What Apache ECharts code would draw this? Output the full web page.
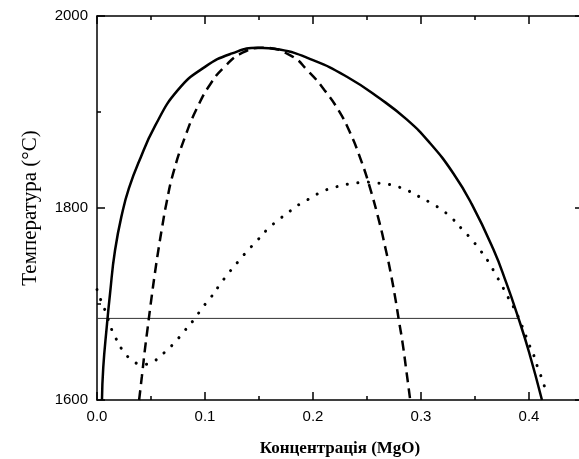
<!DOCTYPE html>
<html>
<head>
<meta charset="utf-8">
<script src="https://cdn.jsdelivr.net/npm/echarts@6/dist/echarts.min.js"></script>
<style>
  html, body { margin: 0; padding: 0; background: #fff; }
  #chart { width: 579px; height: 459px; }
</style>
</head>
<body>
<div id="chart"></div>
<script>
// x ticks (концентрація), y ticks (температура)
const xTicks = [0.0, 0.1, 0.2, 0.3, 0.4]
const yTicks = [1600, 1800, 2000]

// суцільна крива
const solidCurve = [
  [0.0046, 1600], [0.0058, 1634], [0.009, 1676], [0.012, 1710], [0.0167, 1756],
  [0.024, 1798], [0.030, 1822], [0.038, 1846], [0.054, 1886], [0.075, 1923],
  [0.1, 1947], [0.125, 1961], [0.149, 1967], [0.169, 1965], [0.2, 1954],
  [0.231, 1937], [0.262, 1914], [0.287, 1892], [0.308, 1868], [0.33, 1836],
  [0.347, 1804], [0.367, 1757], [0.379, 1722], [0.39, 1686],
  [0.4, 1650], [0.412, 1600]
]

// штрихова крива
const dashedCurve = [
  [0.039, 1600], [0.0415, 1624], [0.0443, 1652], [0.047, 1676], [0.0502, 1704],
  [0.0536, 1732], [0.0568, 1756], [0.0603, 1780], [0.0643, 1805], [0.0705, 1836],
  [0.0815, 1874], [0.093, 1905], [0.1055, 1930], [0.118, 1947], [0.1335, 1961],
  [0.153, 1967], [0.179, 1959], [0.196, 1942], [0.2105, 1923], [0.2235, 1902],
  [0.2345, 1878], [0.245, 1848], [0.2525, 1822], [0.2615, 1785], [0.2675, 1756],
  [0.272, 1732], [0.2765, 1704], [0.2795, 1683], [0.283, 1659], [0.2865, 1630],
  [0.29, 1600]
]

// пунктирна крива
const dottedCurve = [
  [0.0, 1715], [0.0046, 1701], [0.009, 1689], [0.012, 1678], [0.0167, 1666],
  [0.023, 1653], [0.032, 1642], [0.042, 1637], [0.052, 1640], [0.062, 1649],
  [0.072, 1660], [0.081, 1672], [0.09, 1684], [0.0975, 1696], [0.1055, 1707],
  [0.113, 1719], [0.121, 1731], [0.1306, 1744], [0.139, 1755], [0.149, 1767],
  [0.158, 1778], [0.1685, 1788], [0.179, 1797], [0.189, 1805], [0.199, 1811],
  [0.208, 1817], [0.2185, 1821], [0.2287, 1824], [0.239, 1826], [0.249, 1827],
  [0.259, 1826], [0.2685, 1825], [0.279, 1822], [0.288, 1818], [0.298, 1812],
  [0.308, 1806], [0.318, 1799], [0.329, 1789], [0.338, 1778], [0.347, 1767],
  [0.3555, 1755], [0.363, 1743], [0.369, 1731], [0.375, 1719], [0.3806, 1707],
  [0.387, 1694], [0.3917, 1682], [0.396, 1670], [0.4, 1658], [0.4046, 1646],
  [0.408, 1634], [0.412, 1622], [0.4157, 1609]
]

// горизонтальна лінія
const levelLine = [[0.0, 1685], [0.39, 1685]]

const chart = echarts.init(document.getElementById('chart'), null, { renderer: 'canvas' })

const axisColor = '#000'
const tickFont = { fontFamily: 'Liberation Sans', fontSize: 15, color: '#000' }

// основна вісь X (мітки + великі поділки)
const xMain = (pos, labels) => ({
  type: 'value',
  position: pos,
  gridIndex: 0,
  min: 0,
  max: 0.45,
  interval: 0.1,
  axisLine: { show: true, onZero: false, lineStyle: { color: axisColor, width: 1.5 } },
  axisTick: { show: true, inside: true, length: 8, lineStyle: { color: axisColor, width: 1.5 } },
  axisLabel: {
    show: labels,
    ...tickFont,
    margin: 9,
    showMaxLabel: false,
    formatter: v => (xTicks.some(t => Math.abs(t - v) < 1e-6) ? v.toFixed(1) : '')
  },
  splitLine: { show: false }
})

// допоміжна вісь X (малі поділки)
const xMinor = pos => ({
  type: 'value',
  position: pos,
  gridIndex: 0,
  min: 0,
  max: 0.45,
  interval: 0.05,
  axisLine: { show: false, onZero: false },
  axisTick: { show: true, inside: true, length: 4, lineStyle: { color: axisColor, width: 1.5 } },
  axisLabel: { show: false },
  splitLine: { show: false }
})

const option = {
  animation: false,
  backgroundColor: '#fff',
  grid: { left: 97, top: 16, width: 486, height: 384, containLabel: false, outerBoundsMode: 'none' },
  xAxis: [
    {
      ...xMain('bottom', true),
      name: 'Концентрація (MgO)',
      nameLocation: 'middle',
      nameGap: 40,
      nameTextStyle: { fontFamily: 'Liberation Serif', fontWeight: 'bold', fontSize: 17, color: '#000' }
    },
    xMinor('bottom'),
    xMain('top', false),
    xMinor('top')
  ],
  yAxis: [
    {
      type: 'value',
      position: 'left',
      min: 1600,
      max: 2000,
      interval: 200,
      name: 'Температура (°C)',
      nameLocation: 'middle',
      nameGap: 56,
      nameTextStyle: { fontFamily: 'Liberation Serif', fontSize: 21, color: '#000' },
      axisLine: { show: true, onZero: false, lineStyle: { color: axisColor, width: 1.5 } },
      axisTick: { show: true, inside: true, length: 8, lineStyle: { color: axisColor, width: 1.5 } },
      minorTick: { show: true, splitNumber: 2, length: 4, lineStyle: { color: axisColor, width: 1.5 } },
      axisLabel: { ...tickFont, margin: 9, formatter: v => (yTicks.includes(v) ? String(v) : '') },
      splitLine: { show: false },
      minorSplitLine: { show: false }
    },
    {
      type: 'value',
      position: 'right',
      min: 1600,
      max: 2000,
      interval: 200,
      axisLine: { show: true, onZero: false, lineStyle: { color: axisColor, width: 1.5 } },
      axisTick: { show: true, inside: true, length: 8, lineStyle: { color: axisColor, width: 1.5 } },
      axisLabel: { show: false },
      splitLine: { show: false }
    }
  ],
  series: [
    {
      type: 'line',
      data: levelLine,
      showSymbol: false,
      lineStyle: { color: '#333', width: 1 },
      silent: true
    },
    {
      type: 'line',
      data: solidCurve,
      showSymbol: false,
      smooth: 0.5,
      lineStyle: { color: '#000', width: 2.5 }
    },
    {
      type: 'line',
      data: dashedCurve,
      showSymbol: false,
      smooth: 0.5,
      lineStyle: { color: '#000', width: 2.5, type: [10, 6] }
    },
    {
      type: 'line',
      data: dottedCurve,
      showSymbol: false,
      smooth: 0.5,
      lineStyle: { color: '#000', width: 3, type: [0.1, 10.5], cap: 'round' }
    }
  ]
}

chart.setOption(option)
</script>
</body>
</html>
